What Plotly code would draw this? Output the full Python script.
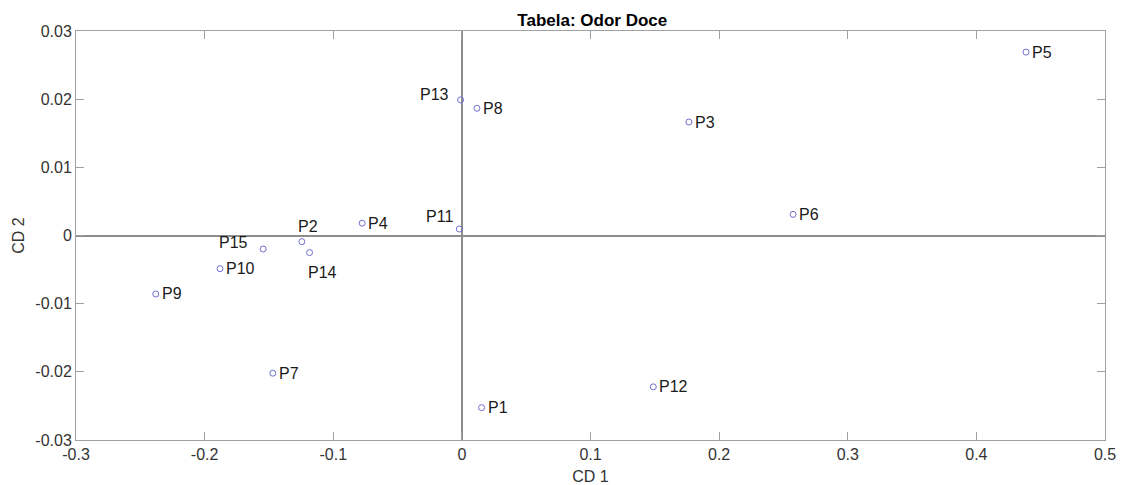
import plotly.graph_objects as go

labels = ["P1", "P2", "P3", "P4", "P5", "P6", "P7", "P8", "P9", "P10", "P11", "P12", "P13", "P14", "P15"]
cd1 = [0.0153, -0.1244, 0.1765, -0.0775, 0.4386, 0.2575, -0.147, 0.0117, -0.238, -0.188, -0.002, 0.1488, -0.001, -0.1184, -0.1545]
cd2 = [-0.02526, -0.0009, 0.01665, 0.0018, 0.0269, 0.0031, -0.0202, 0.01866, -0.00858, -0.00487, 0.00095, -0.0222, 0.0199, -0.0025, -0.00198]

# label placement: (xanchor, xshift px, yshift px)
label_place = {
    "P2": ("center", 6, 15),
    "P11": ("right", -4, 13),
    "P13": ("right", -10, 5),
    "P14": ("center", 13, -20),
    "P15": ("right", -13, 7),
}
default_place = ("left", 4, 0)

xticks = [-0.3, -0.2, -0.1, 0, 0.1, 0.2, 0.3, 0.4, 0.5]
xticklabels = ["-0.3", "-0.2", "-0.1", "0", "0.1", "0.2", "0.3", "0.4", "0.5"]
yticks = [-0.03, -0.02, -0.01, 0, 0.01, 0.02, 0.03]
yticklabels = ["-0.03", "-0.02", "-0.01", "0", "0.01", "0.02", "0.03"]

FONT = "Liberation Sans, Arial, sans-serif"

fig = go.Figure()
fig.add_trace(go.Scatter(
    x=cd1, y=cd2, mode="markers",
    marker=dict(symbol="circle-open", size=6, color="#7070d0", line=dict(width=1)),
    showlegend=False, cliponaxis=False,
))

for lab, xv, yv in zip(labels, cd1, cd2):
    anchor, xs, ys = label_place.get(lab, default_place)
    fig.add_annotation(x=xv, y=yv, text=lab, showarrow=False, xanchor=anchor, yanchor="middle",
                       xshift=xs, yshift=ys,
                       font=dict(family=FONT, size=16, color="#1a1a1a"))

axis_common = dict(
    showgrid=False, showline=True, linecolor="#a0a0a0", linewidth=1, mirror="ticks",
    ticks="inside", ticklen=8, tickcolor="#a0a0a0", tickwidth=1,
    zeroline=True, zerolinecolor="#8c8c8c", zerolinewidth=1.5,
    tickfont=dict(family=FONT, size=16, color="#333333"),
    automargin=False,
)

fig.update_xaxes(range=[-0.3, 0.5], tickvals=xticks, ticktext=xticklabels,
                 title=dict(text="CD 1", font=dict(family=FONT, size=16, color="#333333"), standoff=8),
                 **axis_common)
fig.update_yaxes(range=[-0.03, 0.03], tickvals=yticks, ticktext=yticklabels,
                 title=dict(text="CD 2", font=dict(family=FONT, size=16, color="#333333"), standoff=6),
                 **axis_common)

fig.update_layout(
    width=1126, height=485,
    margin=dict(l=76, r=21, t=31, b=45),
    paper_bgcolor="white", plot_bgcolor="white",
    title=dict(text="<b>Tabela: Odor Doce</b>", x=0.526, xanchor="center", y=0.958, yanchor="middle",
               font=dict(family=FONT, size=17, color="#000000")),
)

fig.write_html("out.html")
